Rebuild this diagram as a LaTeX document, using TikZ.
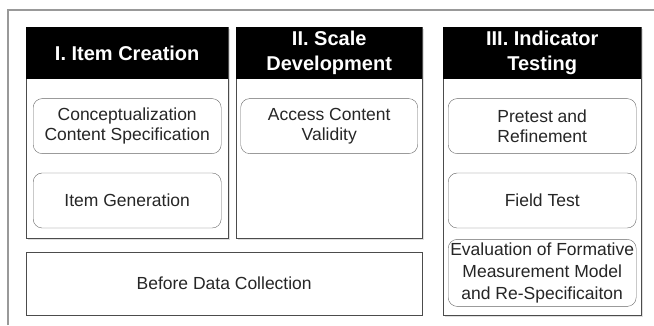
\documentclass[tikz,border=0pt]{standalone}
\usepackage{fontspec}
\setmainfont{Liberation Sans}
\usetikzlibrary{positioning,shadows}
\tikzset{
    frame/.style={draw=black!40, line width=1.2pt},
    stage/.style={draw=black!70, fill=white, anchor=north west, inner sep=0pt,
        drop shadow={shadow xshift=1.5pt, shadow yshift=-1.5pt, opacity=.25}},
    head/.style={fill=black, text=white, anchor=north, inner sep=0pt, minimum height=52pt,
        align=center, font=\fontsize{20}{25}\selectfont\bfseries},
    item/.style={draw=black!60, rounded corners=9pt, fill=white, minimum width=188pt,
        minimum height=55pt, inner sep=0pt, align=center, text=black!85},
    base/.style={draw=black!70, anchor=north west, inner sep=0pt, text=black!85}
}
\begin{document}
\begin{tikzpicture}[x=1pt, y=-1pt, node distance=19pt, font=\fontsize{17.5}{20}\selectfont]
    \useasboundingbox (0,0) rectangle (654,325);
    % outer frame, open at right and bottom
    \coordinate (fr-bl) at (8,325);
    \coordinate (fr-tl) at (8,10);
    \coordinate (fr-tr) at (654,10);
    \draw[frame] (fr-bl) -- (fr-tl) -- (fr-tr);

    % I. Item Creation
    \node[stage, minimum width=202pt, minimum height=211pt] (s1) at (26,27) {};
    \node[head, minimum width=202pt] (h1) at (s1.north) {I. Item Creation};
    \node[item, below=of h1] (concept) {Conceptualization\\Content Specification};
    \node[item, below=of concept] (gen) {Item Generation};

    % II. Scale Development
    \node[stage, minimum width=186pt, minimum height=211pt] (s2) at (236,27) {};
    \node[head, minimum width=186pt] (h2) at (s2.north) {II. Scale\\Development};
    \node[item, minimum width=177pt, below=of h2] (valid) {Access Content\\Validity};

    % III. Indicator Testing
    \node[stage, minimum width=198pt, minimum height=288pt] (s3) at (443,27) {};
    \node[head, minimum width=198pt] (h3) at (s3.north) {III. Indicator\\Testing};
    \node[item, below=of h3] (pretest) {Pretest and\\Refinement};
    \node[item, below=of pretest] (field) {Field Test};
    \node[item, minimum height=67pt, below=11pt of field, font=\fontsize{17.5}{22}\selectfont] (eval)
        {Evaluation of Formative\\Measurement Model\\and Re-Specificaiton};

    % bottom box
    \node[base, minimum width=396pt, minimum height=63pt] (before) at (26,252) {};
    \node[text=black!85] at (before.center) {Before Data Collection};
\end{tikzpicture}
\end{document}
